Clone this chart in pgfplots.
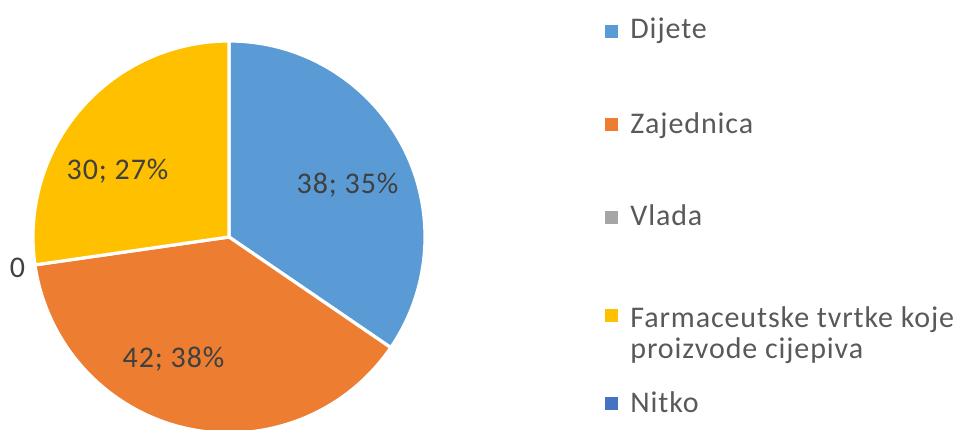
\documentclass[border=0pt]{standalone}
\usepackage{pgfplots}
\usepackage{pgfplotstable}
\pgfplotsset{compat=1.18}
\usepackage{fontspec}
\setmainfont{Carlito}[LetterSpace=3]
\definecolor{sDijete}{HTML}{5B9BD5}
\definecolor{sZajed}{HTML}{ED7D31}
\definecolor{sVlada}{HTML}{A5A5A5}
\definecolor{sFarma}{HTML}{FFC000}
\definecolor{sNitko}{HTML}{4472C4}
\definecolor{lblText}{HTML}{404040}
\definecolor{legText}{HTML}{595959}

\pgfplotstableread{
name value
Dijete 38
Zajednica 42
Vlada 0
Farmaceutske 30
Nitko 0
}\piedata

% total and wedge angles (clockwise from 12 o'clock)
\def\total{0}
\pgfplotstableforeachcolumnelement{value}\of\piedata\as\v{%
  \pgfmathsetmacro\t{\total+\v}\global\let\total\t}
\def\cum{90}
\pgfplotstableforeachcolumnelement{value}\of\piedata\as\v{%
  \pgfmathsetmacro\e{\cum-360*\v/\total}%
  \expandafter\xdef\csname s\pgfplotstablerow\endcsname{\cum}%
  \expandafter\xdef\csname e\pgfplotstablerow\endcsname{\e}%
  \global\let\cum\e}

\newcommand{\pieslice}[2]{%
  \fill[#2,draw=white,line width=1.6pt,line join=round] (axis cs:229,-237)
    -- ++(\csname s#1\endcsname:98pt)
    arc[start angle=\csname s#1\endcsname,end angle=\csname e#1\endcsname,radius=98pt]
    -- cycle;}

\begin{document}
\begin{tikzpicture}
\begin{axis}[
  scale only axis,
  width=480.5pt, height=214.5pt,
  xmin=0, xmax=961, ymin=-429, ymax=0,
  hide axis,
]
\addplot[draw=none] coordinates {(0,0)};
\pieslice{0}{sDijete}
\pieslice{1}{sZajed}
\pieslice{3}{sFarma}

\begin{scope}[every node/.style={font=\fontsize{15}{18}\selectfont,text=lblText,anchor=base,inner sep=0pt}]
\node at (axis cs:347.5,-193) {38; 35\%};
\node at (axis cs:173.5,-367) {42; 38\%};
\node at (axis cs:117.5,-179) {30; 27\%};
\node at (axis cs:17.5,-277) {0};
\end{scope}

\begin{scope}[every node/.style={font=\fontsize{15}{18}\selectfont,text=legText,anchor=base west,inner sep=0pt}]
\fill[sDijete] (axis cs:605,-25) rectangle (axis cs:618,-38);
\node at (axis cs:630,-39) {Dijete};
\fill[sZajed] (axis cs:605,-118) rectangle (axis cs:618,-131);
\node at (axis cs:630,-133) {Zajednica};
\fill[sVlada] (axis cs:605,-211) rectangle (axis cs:618,-224);
\node at (axis cs:630,-225) {Vlada};
\fill[sFarma] (axis cs:605,-309) rectangle (axis cs:618,-322);
\node at (axis cs:630,-327) {Farmaceutske tvrtke koje};
\node at (axis cs:630,-358) {proizvode cijepiva};
\fill[sNitko] (axis cs:605,-397) rectangle (axis cs:618,-410);
\node at (axis cs:630,-412) {Nitko};
\end{scope}
\end{axis}
\useasboundingbox (0,0) rectangle (480.5pt,214.5pt);
\end{tikzpicture}
\end{document}
